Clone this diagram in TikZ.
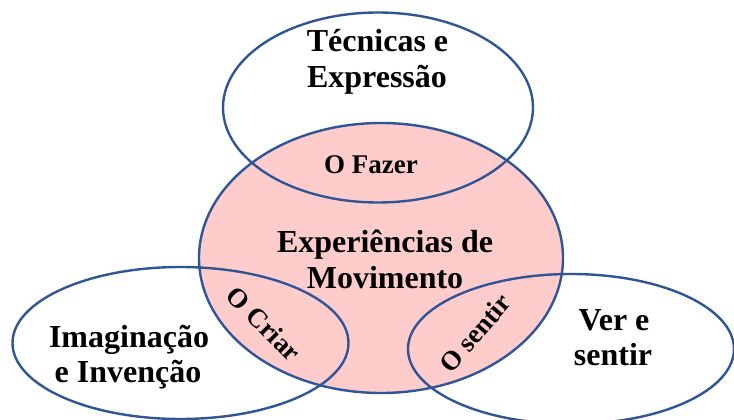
\documentclass[tikz,border=0pt]{standalone}
\usepackage{fontspec}
\setmainfont{Liberation Serif}
\definecolor{vennblue}{HTML}{2F5597}
\definecolor{vennpink}{HTML}{FFCCCC}
\begin{document}
\begin{tikzpicture}[x=1pt,y=-1pt,
  ring/.style={draw=vennblue,line width=2.4pt},
  biglabel/.style={font=\fontsize{32}{36}\selectfont\bfseries,inner sep=0pt,anchor=base},
  smalllabel/.style={font=\fontsize{27}{30}\selectfont\bfseries,inner sep=0pt}]
\useasboundingbox (0,0) rectangle (734,420);
\clip (0,0) rectangle (734,420);
% fill of the central set
\fill[vennpink] (381,258) ellipse [x radius=182pt, y radius=135pt];
% outlines
\draw[ring] (378,107.5) ellipse [x radius=155pt, y radius=95pt];
\draw[ring] (381,258) ellipse [x radius=182pt, y radius=135pt];
\draw[ring] (180.5,343) ellipse [x radius=168pt, y radius=76pt];
\draw[ring] (571,349) ellipse [x radius=163pt, y radius=75pt];
% labels
\node[biglabel] (tec1) at (377.5,52) {Técnicas e};
\node[biglabel] (tec2) at (377,88) {Expressão};
\node[smalllabel,anchor=base] (faz) at (371,173) {O Fazer};
\node[biglabel] (exp1) at (385,252) {Experiências de};
\node[biglabel] (exp2) at (385,288) {Movimento};
\node[biglabel] (ima1) at (129,347) {Imaginação};
\node[biglabel] (ima2) at (128,382) {e Invenção};
\node[biglabel] (ver1) at (614,330) {Ver e};
\node[biglabel] (ver2) at (613,365) {sentir};
\node[smalllabel,rotate=-45] (criar) at (264,324) {O Criar};
\node[smalllabel,rotate=49] (sentir) at (475,333) {O sentir};
\end{tikzpicture}
\end{document}
